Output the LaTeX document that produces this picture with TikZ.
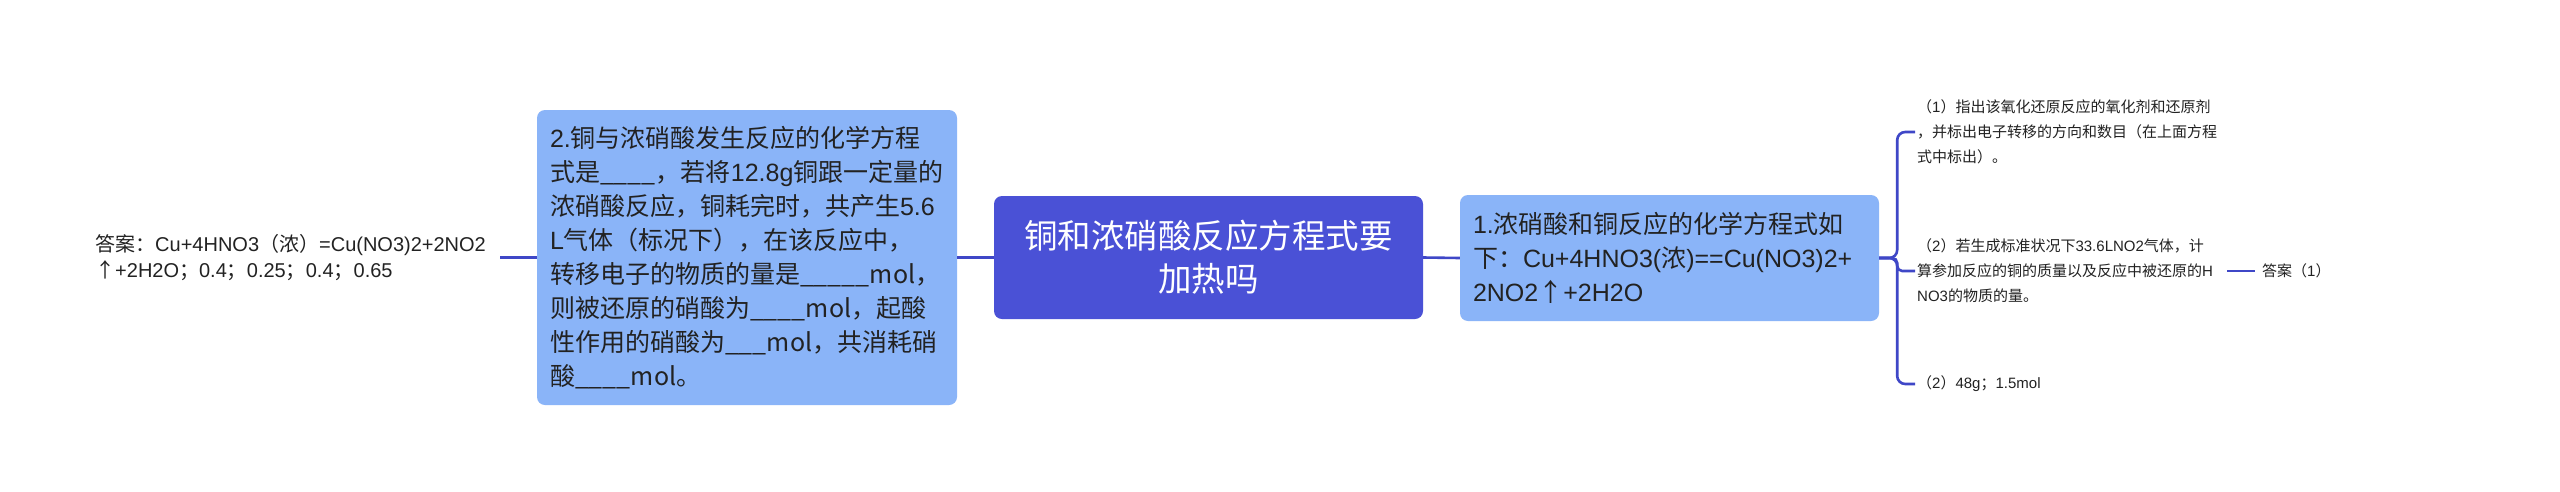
\documentclass[tikz,border=0pt]{standalone}
\usepackage{fontspec}
\setmainfont{Liberation Sans}
\newfontfamily\cjk{Noto Sans CJK SC}
\newfontfamily\lat{Liberation Sans}
\XeTeXinterchartokenstate=1
\newXeTeXintercharclass\mycjk
\makeatletter
\count@="3000
\loop\XeTeXcharclass\count@=\mycjk\ifnum\count@<"303F \advance\count@\@ne\repeat
\count@="4E00
\loop\XeTeXcharclass\count@=\mycjk\ifnum\count@<"9FFF \advance\count@\@ne\repeat
\count@="FF00
\loop\XeTeXcharclass\count@=\mycjk\ifnum\count@<"FFEF \advance\count@\@ne\repeat
\XeTeXcharclass"2191=\mycjk
\makeatother
\XeTeXinterchartoks 0 \mycjk = {\cjk}
\XeTeXinterchartoks 4095 \mycjk = {\cjk}
\XeTeXinterchartoks \mycjk 0 = {\lat}
\definecolor{ctrfill}{HTML}{4A51D6}
\definecolor{boxfill}{HTML}{8AB4F8}
\definecolor{linec}{HTML}{3F47C7}
\definecolor{txt}{HTML}{222222}
\begin{document}
\begin{tikzpicture}[x=1pt,y=-1pt,
  conn/.style={draw=linec,line width=2.6pt},
  ctrbox/.style={fill=ctrfill,rounded corners=8pt,text=white,align=center,
    font=\fontsize{33.5}{43}\selectfont,minimum width=429pt,minimum height=123pt,inner sep=0pt},
  subbox/.style={fill=boxfill,rounded corners=8pt,text=txt,align=left,
    font=\fontsize{25}{34}\selectfont,inner xsep=13pt,inner ysep=0pt},
  leaf/.style={text=txt,align=left,anchor=west,inner ysep=0pt},
  ]
\fill[white] (0,0) rectangle (2560,491);
\useasboundingbox (0,0) rectangle (2560,491);
\node[ctrbox] (ctr) at (1208.5,257.5) {铜和浓硝酸反应方程式要\\加热吗};
\node[subbox,minimum width=420pt,minimum height=295pt,text width=394pt] (lbox) at (747,257.5)
 {2.铜与浓硝酸发生反应的化学方程\\式是\_\_\_\_，若将12.8g铜跟一定量的\\浓硝酸反应，铜耗完时，共产生5.6\\L气体（标况下），在该反应中，\\转移电子的物质的量是\_\_\_\_\_mol，\\则被还原的硝酸为\_\_\_\_mol，起酸\\性作用的硝酸为\_\_\_mol，共消耗硝\\酸\_\_\_\_mol。};
\node[subbox,minimum width=419pt,minimum height=126pt,text width=393pt] (rbox) at (1669.5,258)
 {1.浓硝酸和铜反应的化学方程式如\\下：Cu+4HNO3(浓)==Cu(NO3)2+\\2NO2↑+2H2O};
\node[leaf,inner xsep=5pt,text width=400pt,font=\fontsize{20}{26}\selectfont] (ans0) at (90,258)
 {答案：Cu+4HNO3（浓）=Cu(NO3)2+2NO2\\↑+2H2O；0.4；0.25；0.4；0.65};
\node[leaf,inner xsep=2pt,text width=308pt,font=\fontsize{15}{25}\selectfont] (c1) at (1915,132)
 {（1）指出该氧化还原反应的氧化剂和还原剂\\，并标出电子转移的方向和数目（在上面方程\\式中标出）。};
\node[leaf,inner xsep=2pt,text width=308pt,font=\fontsize{15}{25}\selectfont] (c2) at (1915,271)
 {（2）若生成标准状况下33.6LNO2气体，计\\算参加反应的铜的质量以及反应中被还原的H\\NO3的物质的量。};
\node[leaf,inner xsep=2pt,font=\fontsize{15}{25}\selectfont] (c3) at (1915,384)
 {（2）48g；1.5mol};
\node[leaf,inner xsep=7pt,font=\fontsize{15}{25}\selectfont] (a1) at (2255,271) {答案（1）};
\draw[conn] (ctr.west) -- (lbox.east);
\draw[conn] (ctr.east) -- (rbox.east -| rbox.west);
\draw[conn] (lbox.west) -- (ans0.east |- lbox.west);
\draw[conn,rounded corners=8pt] (rbox.east) -- ++(18,0) |- (c1.west);
\draw[conn,rounded corners=5pt] (rbox.east) -- ++(18,0) |- (c2.west);
\draw[conn,rounded corners=8pt] (rbox.east) -- ++(18,0) |- (c3.west);
\draw[conn] (c2.east) -- (a1.west);
\end{tikzpicture}
\end{document}
